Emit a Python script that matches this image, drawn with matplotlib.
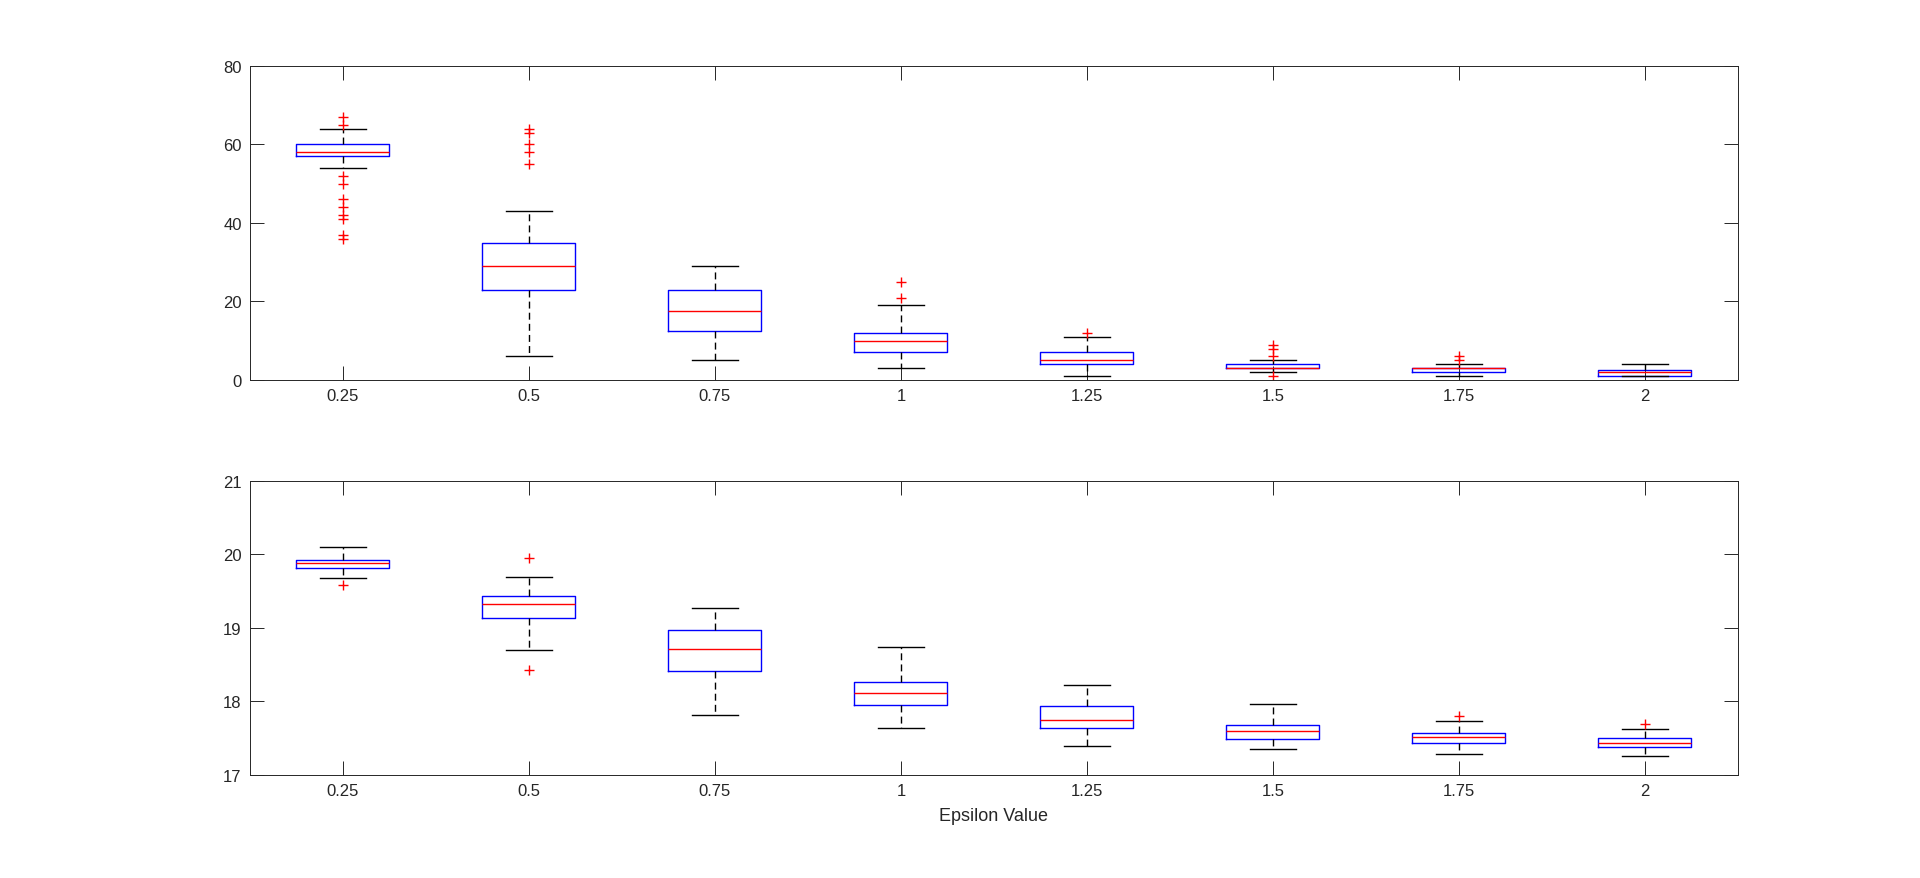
import numpy as np
import matplotlib.pyplot as plt

# Valores de epsilon (eje x)
EPSILON = ["0.25", "0.5", "0.75", "1", "1.25", "1.5", "1.75", "2"]

# Panel superior: estadisticos
sup_whislo = [54, 6, 5, 3, 1, 2, 1, 1]
sup_q1     = [57, 23, 12.5, 7, 4, 3, 2, 1]
sup_med    = [58, 29, 17.5, 10, 5, 3, 3, 2]
sup_q3     = [60, 35, 23, 12, 7, 4, 3, 2.5]
sup_whishi = [64, 43, 29, 19, 11, 5, 4, 4]
sup_fliers = [
    [67, 65, 52, 50, 46, 44, 42, 41, 37, 36],
    [64, 63, 60, 58, 55],
    [],
    [25, 21],
    [12],
    [9, 8, 6, 1],
    [6, 5],
    [],
]

# Panel inferior
inf_whislo = [19.68, 18.70, 17.81, 17.64, 17.39, 17.35, 17.29, 17.26]
inf_q1     = [19.82, 19.13, 18.41, 17.95, 17.64, 17.49, 17.44, 17.38]
inf_med    = [19.88, 19.32, 18.72, 18.12, 17.75, 17.60, 17.51, 17.43]
inf_q3     = [19.93, 19.44, 18.97, 18.27, 17.94, 17.68, 17.57, 17.50]
inf_whishi = [20.10, 19.69, 19.27, 18.74, 18.23, 17.96, 17.73, 17.63]
inf_fliers = [
    [19.58],
    [19.95, 18.43],
    [], [], [], [],
    [17.80],
    [17.70],
]

GRIS = "#262626"

plt.rcParams["font.family"] = ["Liberation Sans", "DejaVu Sans"]


def armar_stats(whislo, q1, med, q3, whishi, fliers):
    stats = []
    for i in range(len(EPSILON)):
        stats.append({
            "whislo": whislo[i], "q1": q1[i], "med": med[i],
            "q3": q3[i], "whishi": whishi[i], "fliers": fliers[i],
        })
    return stats


def dibujar_panel(ax, stats, ylim, yticks):
    ax.bxp(
        stats, positions=np.arange(1, len(EPSILON) + 1), widths=0.5,
        showfliers=True, manage_ticks=False,
        boxprops=dict(color="#0000ff", linewidth=1.0),
        medianprops=dict(color="#ff0000", linewidth=1.0),
        whiskerprops=dict(color="black", linewidth=1.0, linestyle=(0, (5, 3))),
        capprops=dict(color="black", linewidth=1.0),
        capwidths=0.25,
        flierprops=dict(marker="+", markeredgecolor="#ff0000",
                        markersize=7, markeredgewidth=1.0, linestyle="none"),
    )
    ax.set_xlim(0.5, len(EPSILON) + 0.5)
    ax.set_xticks(np.arange(1, len(EPSILON) + 1))
    ax.set_xticklabels(EPSILON)
    ax.set_ylim(*ylim)
    ax.set_yticks(yticks)
    ax.tick_params(direction="in", top=True, right=True, length=10,
                   width=0.7, colors=GRIS, labelsize=12, pad=6)
    for s in ax.spines.values():
        s.set_color(GRIS)
        s.set_linewidth(0.7)


fig = plt.figure(figsize=(19.2, 8.79), dpi=100)
ax_sup = fig.add_axes([0.1302, 0.5666, 0.775, 0.3572])
ax_inf = fig.add_axes([0.1302, 0.1172, 0.775, 0.3345])

dibujar_panel(ax_sup,
              armar_stats(sup_whislo, sup_q1, sup_med, sup_q3, sup_whishi, sup_fliers),
              (0, 80), [0, 20, 40, 60, 80])
dibujar_panel(ax_inf,
              armar_stats(inf_whislo, inf_q1, inf_med, inf_q3, inf_whishi, inf_fliers),
              (17, 21), [17, 18, 19, 20, 21])

ax_inf.set_xlabel("Epsilon Value", fontsize=13, color=GRIS, labelpad=6)

fig.savefig("out.png", dpi=100)
